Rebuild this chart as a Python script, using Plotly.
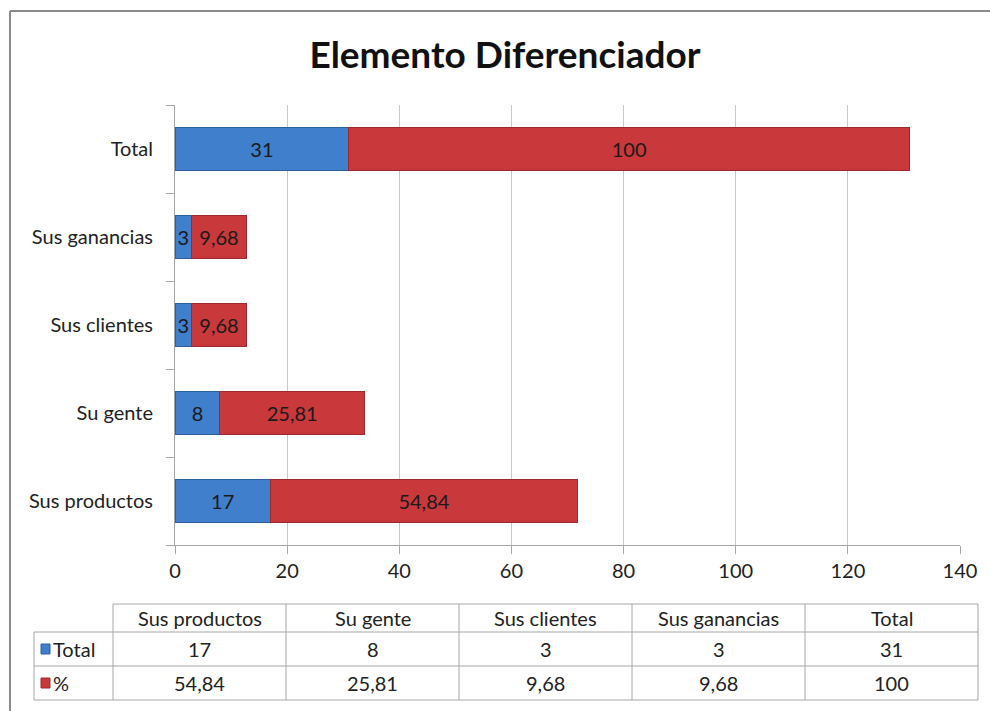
import plotly.graph_objects as go

categories = ["Sus productos", "Su gente", "Sus clientes", "Sus ganancias", "Total"]
total_values = [17, 8, 3, 3, 31]
pct_values = [54.84, 25.81, 9.68, 9.68, 100]
series_names = ["Total", "%"]
x_ticks = [0, 20, 40, 60, 80, 100, 120, 140]

W, H = 990, 711
L, R, T, B = 175, 960, 105, 545
FONT = "Lato"
BLUE = "#3f7fcb"
RED = "#c9383b"


def fmt(v):
    return ("%g" % v).replace(".", ",")


def px(x):
    return (x - L) / (R - L)


def py(y):
    return (B - y) / (B - T)


fig = go.Figure()
fig.add_trace(go.Bar(
    y=categories, x=total_values, orientation="h", name=series_names[0],
    marker=dict(color=BLUE, line=dict(color="#2c5f9e", width=1)),
    text=[fmt(v) for v in total_values], textposition="inside",
    insidetextanchor="middle",
    textfont=dict(family=FONT, size=20, color="#1a1a1a"),
))
fig.add_trace(go.Bar(
    y=categories, x=pct_values, orientation="h", name=series_names[1],
    marker=dict(color=RED, line=dict(color="#9c2a2c", width=1)),
    text=[fmt(v) for v in pct_values], textposition="inside",
    insidetextanchor="middle",
    textfont=dict(family=FONT, size=20, color="#1a1a1a"),
))

shapes = []
annotations = []

# outer frame
shapes.append(dict(type="line", xref="paper", yref="paper",
                   x0=px(10), x1=px(W + 5), y0=py(11), y1=py(11),
                   line=dict(color="#8a8a8a", width=2)))
shapes.append(dict(type="line", xref="paper", yref="paper",
                   x0=px(10), x1=px(10), y0=py(11), y1=py(H + 5),
                   line=dict(color="#8a8a8a", width=2)))

# data table
col_l = 113
col_w = (978 - 113) / len(categories)
leg_l = 34
rows = [604, 632, 666, 700]
lc = dict(color="#a6a6a6", width=1)
shapes.append(dict(type="line", xref="paper", yref="paper",
                   x0=px(col_l), x1=px(978), y0=py(rows[0]), y1=py(rows[0]), line=lc))
for r in rows[1:]:
    shapes.append(dict(type="line", xref="paper", yref="paper",
                       x0=px(leg_l), x1=px(978), y0=py(r), y1=py(r), line=lc))
for i in range(len(categories) + 1):
    xv = col_l + i * col_w
    shapes.append(dict(type="line", xref="paper", yref="paper",
                       x0=px(xv), x1=px(xv), y0=py(rows[0]), y1=py(rows[3]), line=lc))
shapes.append(dict(type="line", xref="paper", yref="paper",
                   x0=px(leg_l), x1=px(leg_l), y0=py(rows[1]), y1=py(rows[3]), line=lc))

tf = dict(family=FONT, size=20, color="#222222")
for i, c in enumerate(categories):
    cx = col_l + (i + 0.5) * col_w
    annotations.append(dict(xref="paper", yref="paper", x=px(cx), y=py((rows[0] + rows[1]) / 2),
                            text=c, showarrow=False, font=tf, xanchor="center", yanchor="middle"))
    annotations.append(dict(xref="paper", yref="paper", x=px(cx), y=py((rows[1] + rows[2]) / 2),
                            text=fmt(total_values[i]), showarrow=False, font=tf,
                            xanchor="center", yanchor="middle"))
    annotations.append(dict(xref="paper", yref="paper", x=px(cx), y=py((rows[2] + rows[3]) / 2),
                            text=fmt(pct_values[i]), showarrow=False, font=tf,
                            xanchor="center", yanchor="middle"))

for j, (nm, colr, edge) in enumerate([(series_names[0], BLUE, "#2c5f9e"),
                                       (series_names[1], RED, "#9c2a2c")]):
    yc = (rows[1 + j] + rows[2 + j]) / 2
    shapes.append(dict(type="rect", xref="paper", yref="paper",
                       x0=px(41), x1=px(50), y0=py(yc + 5), y1=py(yc - 5),
                       fillcolor=colr, line=dict(color=edge, width=1)))
    annotations.append(dict(xref="paper", yref="paper", x=px(51), y=py(yc),
                            text=nm, showarrow=False, font=tf,
                            xanchor="left", yanchor="middle"))

fig.update_layout(
    width=W, height=H,
    margin=dict(l=L, r=W - R, t=T, b=H - B),
    paper_bgcolor="white", plot_bgcolor="white",
    barmode="stack", bargap=0.51, showlegend=False,
    title=dict(text="<b>Elemento Diferenciador</b>", x=px(505), xref="paper",
               xanchor="center", y=1 - 55 / H, yanchor="middle",
               font=dict(family=FONT, size=37, color="#111111")),
    uniformtext=dict(minsize=19, mode="show"),
    xaxis=dict(range=[0, 140], tickvals=x_ticks, showgrid=True, gridcolor="#c8c8c8",
               gridwidth=1, zeroline=False, showline=True, linecolor="#a6a6a6",
               ticks="outside", ticklen=8, tickcolor="#a6a6a6",
               tickfont=dict(family=FONT, size=20, color="#222222")),
    yaxis=dict(categoryorder="array", categoryarray=categories, range=[-0.5, 4.5],
               showline=True, linecolor="#a6a6a6", showgrid=False, zeroline=False,
               ticks="outside", tickson="boundaries", ticklen=8, tickcolor="#a6a6a6",
               ticklabelstandoff=17,
               tickfont=dict(family=FONT, size=20, color="#222222")),
    shapes=shapes, annotations=annotations,
)
fig.write_html("out.html")
